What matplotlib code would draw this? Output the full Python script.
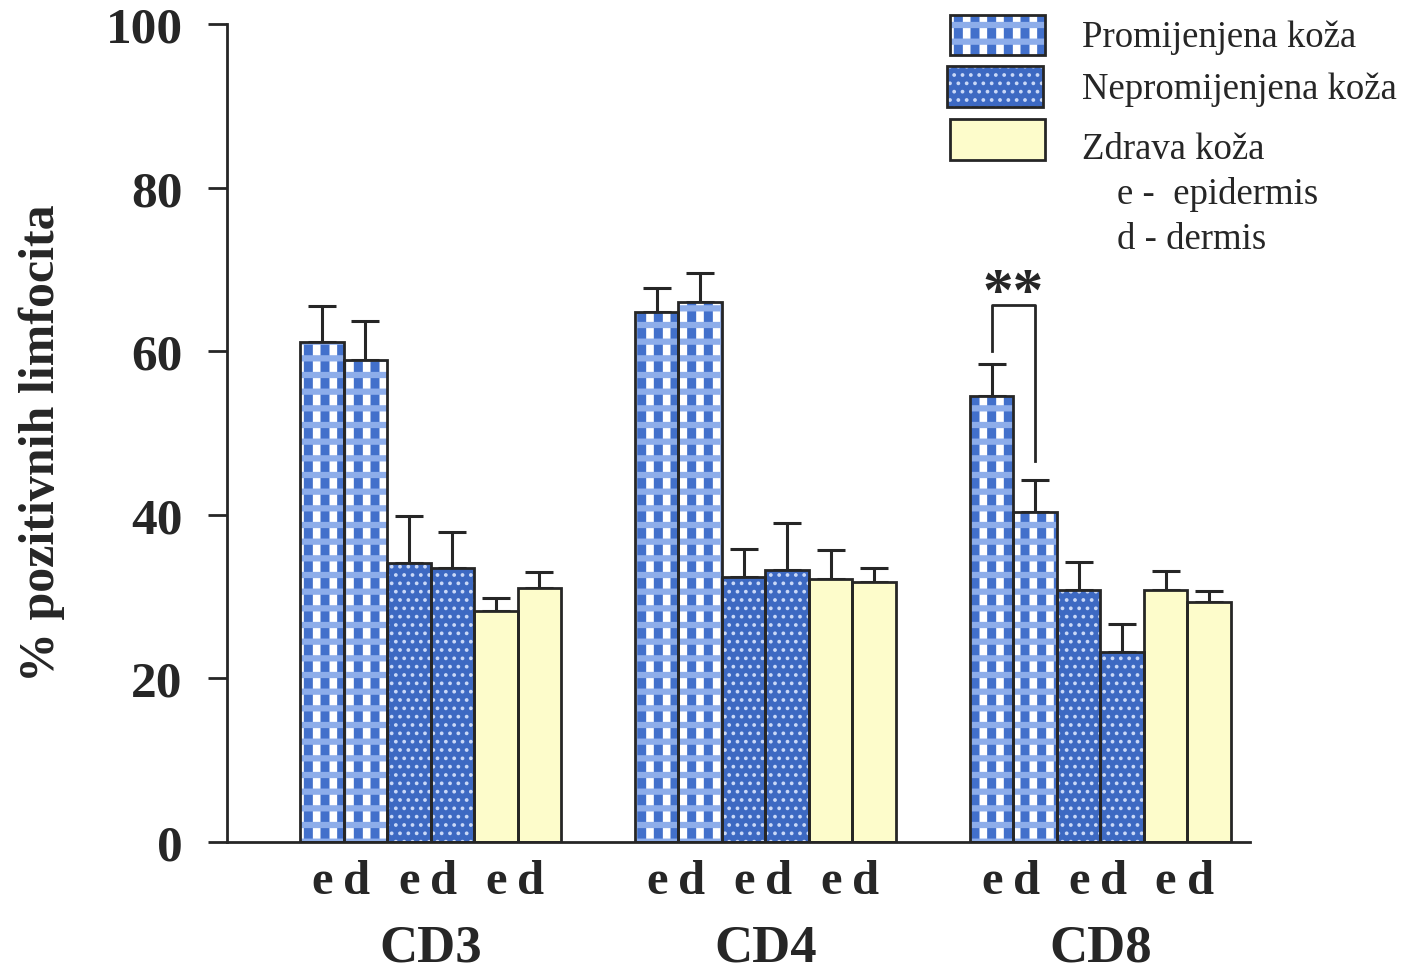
import matplotlib
matplotlib.use("Agg")
import matplotlib.pyplot as plt
import numpy as np
from matplotlib.patches import Rectangle
from matplotlib.transforms import blended_transform_factory

# ---------------- data ----------------
groups = ["CD3", "CD4", "CD8"]
series = ["Promijenjena koža", "Nepromijenjena koža", "Zdrava koža"]
layer_labels = ["e", "d"]

prom_e = [61.1, 64.8, 54.5]
prom_d = [58.9, 66.0, 40.3]
neprom_e = [34.1, 32.4, 30.8]
neprom_d = [33.5, 33.3, 23.2]
zdr_e = [28.2, 32.2, 30.8]
zdr_d = [31.0, 31.8, 29.3]

prom_e_err = [4.4, 2.9, 3.9]
prom_d_err = [4.8, 3.5, 4.0]
neprom_e_err = [5.8, 3.4, 3.4]
neprom_d_err = [4.4, 5.7, 3.5]
zdr_e_err = [1.6, 3.5, 2.3]
zdr_d_err = [2.0, 1.7, 1.4]

yticks = [0, 20, 40, 60, 80, 100]
ylabel = "% pozitivnih limfocita"
legend_notes = ["e -  epidermis", "d - dermis"]
signif_text = "**"

# ---------------- style ----------------
serif = ["Liberation Serif", "DejaVu Serif"]
plt.rcParams["font.family"] = serif
DARK = "#262626"
BLUE = "#4270cb"
BLUE2 = "#3d69c2"
LIGHTBLUE = "#8dadea"
YELLOW = "#fdfccb"

fig = plt.figure(figsize=(14.06, 9.70), dpi=100)
ax = fig.add_axes([227 / 1406, 1 - 843 / 970, 1023 / 1406, 818 / 970])

bw = 1.0
gsp = 7.7
gcent = np.arange(len(groups)) * gsp
offsets = np.array([-2.5, -1.5, -0.5, 0.5, 1.5, 2.5]) * bw


def draw_bars(x, h, style):
    if style == "prom":
        plt.rcParams["hatch.linewidth"] = 6.5
        b1 = ax.bar(x, h, bw, color="white", edgecolor=BLUE, linewidth=0, hatch="|", zorder=2)
        plt.rcParams["hatch.linewidth"] = 4.5
        b2 = ax.bar(x, h, bw, color="none", edgecolor=LIGHTBLUE, linewidth=0, hatch="-", zorder=2.1)
        for bars, lw in ((b1, 6.5), (b2, 4.5)):
            for p in bars:
                if hasattr(p, "set_hatch_linewidth"):
                    p.set_hatch_linewidth(lw)
    elif style == "neprom":
        plt.rcParams["hatch.linewidth"] = 1.5
        b = ax.bar(x, h, bw, color=BLUE2, edgecolor="#c9d8f7", linewidth=0, hatch="..", zorder=2)
        for p in b:
            if hasattr(p, "set_hatch_linewidth"):
                p.set_hatch_linewidth(1.5)
    else:
        ax.bar(x, h, bw, color=YELLOW, linewidth=0, zorder=2)
    ax.bar(x, h, bw, color="none", edgecolor=DARK, linewidth=2.0, zorder=3)


data = [(prom_e, prom_e_err, "prom"), (prom_d, prom_d_err, "prom"),
        (neprom_e, neprom_e_err, "neprom"), (neprom_d, neprom_d_err, "neprom"),
        (zdr_e, zdr_e_err, "zdr"), (zdr_d, zdr_d_err, "zdr")]

for k, (vals, errs, style) in enumerate(data):
    x = gcent + offsets[k]
    draw_bars(x, vals, style)
    ax.errorbar(x, vals, yerr=[np.zeros(len(vals)), errs], fmt="none",
                ecolor=DARK, elinewidth=2.2, capsize=10, capthick=2.2, zorder=1.5)

# axes
ax.set_ylim(0, 100)
ax.set_xlim(-4.68, -4.68 + 23.52)
ax.spines["top"].set_visible(False)
ax.spines["right"].set_visible(False)
ax.spines["left"].set_linewidth(2.0)
ax.spines["bottom"].set_linewidth(2.0)
ax.spines["left"].set_color(DARK)
ax.spines["bottom"].set_color(DARK)
ax.set_yticks(yticks)
ax.set_yticklabels([str(t) for t in yticks], fontsize=37, fontweight="bold", color=DARK)
ax.tick_params(axis="y", direction="out", length=14, width=2.0, color=DARK, pad=18)

xt = []
xl = []
for g in gcent:
    for k in range(6):
        xt.append(g + offsets[k] + (-0.2 if k % 2 else 0.0))
        xl.append(layer_labels[k % 2])
ax.set_xticks(xt)
ax.set_xticklabels(xl, fontsize=35, fontweight="bold", color=DARK)
ax.tick_params(axis="x", length=0, pad=12)

ax.set_ylabel(ylabel, fontsize=36, fontweight="bold", color=DARK)
ax.yaxis.set_label_coords(-0.158, 0.489)

trans = blended_transform_factory(ax.transData, ax.transAxes)
for g, name in zip(gcent, groups):
    ax.text(g, -0.1, name, transform=trans, ha="center", va="top",
            fontsize=38, fontweight="bold", color=DARK)

# significance bracket (CD8: e vs d, Promijenjena)
x1 = gcent[2] + offsets[0]
x2 = gcent[2] + offsets[1]
ax.plot([x1, x1, x2, x2], [60.0, 65.6, 65.6, 46.6], color=DARK, lw=2.0, zorder=4)
ax.text((x1 + x2) / 2, 63.6, signif_text, ha="center", va="bottom",
        fontsize=44, fontweight="bold", color=DARK)

# legend drawn manually
ftr = fig.transFigure
def fx(px):
    return px / 1406
def fy(py):
    return 1 - py / 970

boxes = [(950, 16, 95, 40), (947, 67, 96, 41), (950, 120, 95, 41)]
styles = ["prom", "neprom", "zdr"]
for (bx, by, bwid, bh), st, lab, ty in zip(boxes, styles, series, [38, 90, 150]):
    r_args = dict(transform=ftr, xy=(fx(bx), fy(by + bh)), width=bwid / 1406, height=bh / 970)
    if st == "prom":
        plt.rcParams["hatch.linewidth"] = 6.5
        r1 = Rectangle(facecolor="white", edgecolor=BLUE, linewidth=0, hatch="|", **r_args)
        plt.rcParams["hatch.linewidth"] = 4.5
        r2 = Rectangle(facecolor="none", edgecolor=LIGHTBLUE, linewidth=0, hatch="-", **r_args)
        fig.add_artist(r1)
        fig.add_artist(r2)
    elif st == "neprom":
        plt.rcParams["hatch.linewidth"] = 1.5
        fig.add_artist(Rectangle(facecolor=BLUE2, edgecolor="#c9d8f7", linewidth=0, hatch="..", **r_args))
    else:
        fig.add_artist(Rectangle(facecolor=YELLOW, linewidth=0, **r_args))
    fig.add_artist(Rectangle(facecolor="none", edgecolor=DARK, linewidth=2.0, **r_args))
    fig.text(fx(1082), fy(ty), lab, ha="left", va="center", fontsize=26.5, color=DARK)

for note, ty in zip(legend_notes, [195, 240]):
    fig.text(fx(1117), fy(ty), note, ha="left", va="center", fontsize=26.5, color=DARK)

fig.savefig("out.png", dpi=100)
